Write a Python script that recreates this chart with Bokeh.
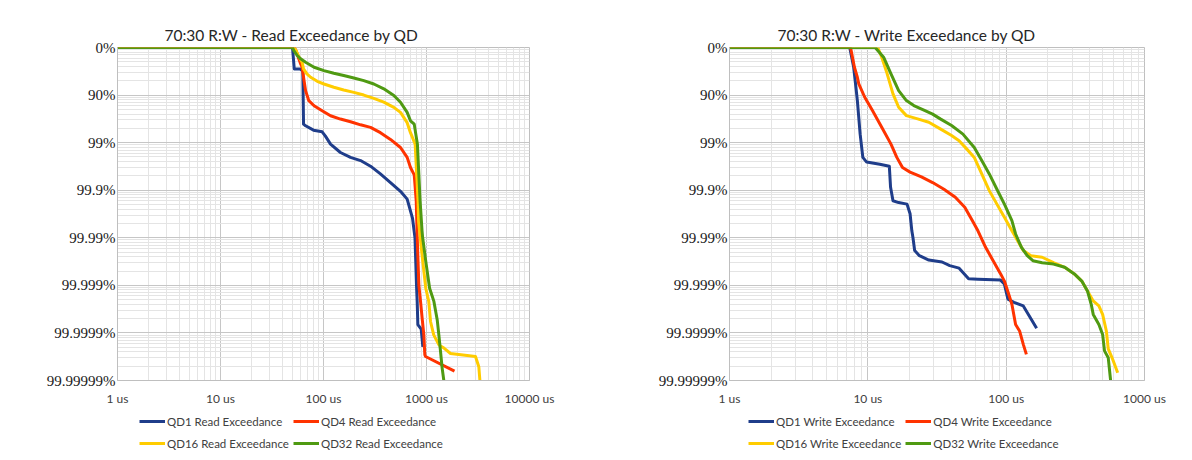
from bokeh.plotting import figure
from bokeh.layouts import row, column
from bokeh.models import FixedTicker, CustomJSTickFormatter, Range1d, Legend, LegendItem
from bokeh.embed import file_html
from bokeh.resources import INLINE

# latency in us, exceedance = fraction of IOs slower than that latency (1 - percentile)
y_ticks = [1, 1e-1, 1e-2, 1e-3, 1e-4, 1e-5, 1e-6, 1e-7]
y_labels = ["0%", "90%", "99%", "99.9%", "99.99%", "99.999%", "99.9999%", "99.99999%"]

read_x_labels = ["1 us", "10 us", "100 us", "1000 us", "10000 us"]
write_x_labels = ["1 us", "10 us", "100 us", "1000 us"]

read_names = ["QD1 Read Exceedance", "QD4 Read Exceedance", "QD16 Read Exceedance", "QD32 Read Exceedance"]
write_names = ["QD1 Write Exceedance", "QD4 Write Exceedance", "QD16 Write Exceedance", "QD32 Write Exceedance"]

# ---- read ----
read_qd1_us = [1, 50, 52, 59, 63, 64, 67, 80, 97, 104, 117, 146, 183, 229, 286, 357, 447, 559, 649, 731,
               773, 800, 812, 824, 888, 922]
read_qd1_exc = [1, 1, 0.355, 0.355, 0.327, 0.0245, 0.0226, 0.0183, 0.0169, 0.0139, 0.0093, 0.0062, 0.0049,
                0.0042, 0.0032, 0.0022, 0.00145, 0.00095, 0.00065, 0.00026, 1e-4, 1e-5, 4.6e-6, 1.5e-6,
                1.2e-6, 5.1e-7]

read_qd4_us = [1, 52, 54, 60, 62, 64, 67, 72, 81, 97, 117, 146, 183, 229, 286, 357, 447, 559, 649, 699,
               760, 795, 813, 843, 875, 908, 942, 963, 978, 1870]
read_qd4_exc = [1, 1, 0.865, 0.452, 0.385, 0.237, 0.124, 0.0762, 0.0597, 0.0468, 0.0367, 0.0313, 0.0275,
                0.0237, 0.0209, 0.0162, 0.0117, 0.0079, 0.0049, 0.003, 0.0021, 0.00059, 1e-4, 1e-5,
                4.6e-6, 2e-6, 9.1e-7, 3.5e-7, 3.2e-7, 1.58e-7]

read_qd16_us = [1, 52, 54, 58, 62, 64, 69, 75, 87, 101, 126, 157, 197, 246, 308, 385, 482, 559, 649, 699,
                776, 828, 838, 904, 984, 1052, 1094, 1175, 1320, 1477, 1711, 2990, 3220, 3300]
read_qd16_exc = [1, 1, 0.865, 0.625, 0.49, 0.355, 0.279, 0.237, 0.195, 0.171, 0.146, 0.128, 0.114, 0.1,
                 0.085, 0.0708, 0.055, 0.0432, 0.0263, 0.0162, 0.0093, 0.00059, 0.00022, 4.5e-5, 8.7e-6,
                 4.6e-6, 1.74e-6, 9.1e-7, 5.6e-7, 4.8e-7, 3.7e-7, 3.2e-7, 1.95e-7, 1e-7]

read_qd32_us = [1, 50, 51.5, 55.5, 60, 67, 81, 101, 126, 157, 197, 246, 308, 385, 482, 559, 649, 699, 760,
                816, 867, 905, 918, 984, 1072, 1180, 1270, 1318, 1368, 1420, 1473]
read_qd32_exc = [1, 1, 0.865, 0.678, 0.577, 0.49, 0.385, 0.327, 0.288, 0.257, 0.229, 0.201, 0.171, 0.135,
                 0.098, 0.0708, 0.0432, 0.0288, 0.0245, 0.0093, 0.00059, 0.00014, 1e-4, 3.2e-5, 8.7e-6,
                 4.6e-6, 1.9e-6, 9.1e-7, 4.1e-7, 1.8e-7, 1e-7]

# ---- write ----
write_qd1_us = [1, 7.4, 7.9, 8.2, 8.4, 8.8, 9.2, 9.8, 12.2, 14.3, 14.6, 15.2, 16.7, 19.2, 20.2, 20.8, 21.2,
                21.8, 23.6, 27.6, 34.4, 39.1, 45.7, 50.2, 53.5, 62.5, 91, 97, 103, 114, 133, 166]
write_qd1_exc = [1, 1, 0.385, 0.146, 0.0766, 0.0151, 0.0049, 0.0039, 0.0035, 0.0032, 0.00115, 0.0006,
                 0.00055, 0.00051, 0.00032, 0.00014, 1e-4, 5.4e-5, 4.2e-5, 3.4e-5, 3.1e-5, 2.6e-5, 2.3e-5,
                 1.7e-5, 1.38e-5, 1.35e-5, 1.29e-5, 1.07e-5, 5.1e-6, 4.4e-6, 3.7e-6, 1.26e-6]

write_qd4_us = [1, 7.5, 8.0, 8.4, 8.6, 9.5, 10.8, 12.6, 14.7, 16.2, 17.8, 20.2, 24.4, 29.4, 35.5, 42.9,
                50.2, 56.9, 62.5, 71, 80.5, 91.2, 97.1, 103.4, 110, 117, 125, 133, 140]
write_qd4_exc = [1, 1, 0.385, 0.237, 0.172, 0.09, 0.0472, 0.021, 0.0093, 0.0049, 0.003, 0.0024, 0.0019,
                 0.00145, 0.00105, 0.00071, 0.00044, 0.00023, 0.00014, 6.3e-5, 3.3e-5, 1.74e-5, 1.23e-5,
                 7.1e-6, 4e-6, 1.51e-6, 1.1e-6, 5.75e-7, 3.55e-7]

write_qd16_us = [1, 11.8, 12.6, 13.8, 15.2, 16.7, 19, 22.9, 27.6, 33.4, 40.3, 45.7, 51.8, 58.8, 66.6, 75.5,
                 85.7, 97.1, 110, 121, 133, 151, 182, 220, 265, 311, 352, 387, 426, 468, 498, 530, 547,
                 583, 640]
write_qd16_exc = [1, 1, 0.625, 0.279, 0.106, 0.0555, 0.037, 0.0316, 0.0269, 0.0195, 0.0141, 0.011, 0.0074,
                  0.0049, 0.0022, 0.00098, 0.00051, 0.00027, 0.00014, 8.7e-5, 5.4e-5, 4.2e-5, 3.9e-5,
                  3e-5, 2.4e-5, 1.74e-5, 1.23e-5, 7.6e-6, 4.7e-6, 3.7e-6, 2.45e-6, 1.1e-6, 4.6e-7,
                  3e-7, 1.45e-7]

write_qd32_us = [1, 11.3, 13, 14.7, 16.7, 19, 21.5, 25.9, 29.4, 33.4, 40.3, 48.7, 58.8, 66.6, 75.5, 85.7,
                 97.1, 110, 117, 129, 142, 156, 182, 220, 265, 311, 352, 387, 412, 426, 468, 498, 514,
                 547, 569]
write_qd32_exc = [1, 1, 0.625, 0.279, 0.124, 0.0766, 0.0601, 0.0472, 0.0398, 0.0316, 0.0229, 0.0151,
                  0.0079, 0.0042, 0.0022, 0.00105, 0.00051, 0.00023, 0.00012, 6.3e-5, 4.2e-5, 3.3e-5,
                  3e-5, 2.8e-5, 2.4e-5, 1.74e-5, 1.23e-5, 7.6e-6, 4e-6, 2.45e-6, 1.51e-6, 9.3e-7,
                  4.2e-7, 3e-7, 1e-7]

colors = ["#1f3d8a", "#ff3300", "#ffcc00", "#4f9a12"]


def exceedance_chart(title, x_labels, lats, excs, width, left, right, title_offset):
    x_max = 10 ** (len(x_labels) - 1)
    p = figure(width=width, height=408, x_axis_type="log", y_axis_type="log",
               x_range=Range1d(1, x_max), y_range=Range1d(1e-7, 1),
               min_border_left=left, min_border_right=right, min_border_top=47, min_border_bottom=28,
               output_backend="svg", toolbar_location=None)
    p.title.text = title
    p.title.align = "left"
    p.title.offset = title_offset
    p.title.standoff = 8
    p.title.text_font = "Lato"
    p.title.text_font_size = "15.5px"
    p.title.text_font_style = "normal"
    p.title.text_color = "#262626"
    p.outline_line_color = "#bfbfbf"

    decades = len(x_labels) - 1
    p.xaxis.ticker = FixedTicker(ticks=[10 ** e for e in range(decades + 1)],
                                 minor_ticks=[m * 10 ** e for e in range(decades) for m in range(2, 10)])
    p.xaxis.formatter = CustomJSTickFormatter(args=dict(labels=x_labels),
                                              code="return labels[Math.round(Math.log10(tick))]")
    p.yaxis.ticker = FixedTicker(ticks=y_ticks,
                                 minor_ticks=[m * 10.0 ** e for e in range(-7, 0) for m in range(2, 10)])
    p.yaxis.formatter = CustomJSTickFormatter(args=dict(labels=y_labels),
                                              code="return labels[Math.round(-Math.log10(tick))]")
    for ax in (p.xaxis, p.yaxis):
        ax.axis_line_color = "#bfbfbf"
        ax.major_tick_line_color = None
        ax.minor_tick_line_color = None
        ax.major_tick_out = 0
        ax.minor_tick_out = 0
        ax.major_tick_in = 0
        ax.minor_tick_in = 0
    p.xaxis.major_label_text_font = "Lato"
    p.xaxis.major_label_text_font_size = "12px"
    p.xaxis.major_label_text_color = "#404040"
    p.xaxis.major_label_standoff = 10
    p.yaxis.major_label_text_font = "Liberation Serif"
    p.yaxis.major_label_text_font_size = "15px"
    p.yaxis.major_label_text_color = "#1a1a1a"
    p.yaxis.major_label_standoff = 2

    p.grid.grid_line_color = "#c6c6c6"
    p.grid.minor_grid_line_color = "#e4e4e4"

    for lat, exc, col in zip(lats, excs, colors):
        p.line(lat, exc, line_color=col, line_width=3, line_join="round")
    return p


def legend_strip(names, width, legend_x):
    # strip under each chart that only carries its two-row legend
    lf = figure(width=width, height=44, min_border=0, x_axis_location=None, y_axis_location=None,
                output_backend="svg", toolbar_location=None)
    lf.outline_line_color = None
    lf.grid.visible = False
    items = []
    for name, col in zip(names, colors):
        r = lf.line(x=[float("nan")], y=[float("nan")], line_color=col, line_width=3)
        items.append(LegendItem(label=name, renderers=[r]))
    legend = Legend(items=items, orientation="horizontal", ncols=2, location=(legend_x, 0),
                    margin=0, padding=0, spacing=4, glyph_width=26, glyph_height=18, label_height=18,
                    label_standoff=2, label_text_font="Lato", label_text_font_size="11.5px",
                    label_text_color="#404040", border_line_color=None, background_fill_alpha=0)
    lf.add_layout(legend)
    return lf


p1 = exceedance_chart("70:30 R:W - Read Exceedance by QD", read_x_labels,
                      [read_qd1_us, read_qd4_us, read_qd16_us, read_qd32_us],
                      [read_qd1_exc, read_qd4_exc, read_qd16_exc, read_qd32_exc],
                      600, 117, 71, 47)
p2 = exceedance_chart("70:30 R:W - Write Exceedance by QD", write_x_labels,
                      [write_qd1_us, write_qd4_us, write_qd16_us, write_qd32_us],
                      [write_qd1_exc, write_qd4_exc, write_qd16_exc, write_qd32_exc],
                      592, 129, 48, 48)
l1 = legend_strip(read_names, 600, 22)
l2 = legend_strip(write_names, 592, 19)

p = row(column(p1, l1), column(p2, l2))
open("out.html", "w").write(file_html(p, INLINE))
